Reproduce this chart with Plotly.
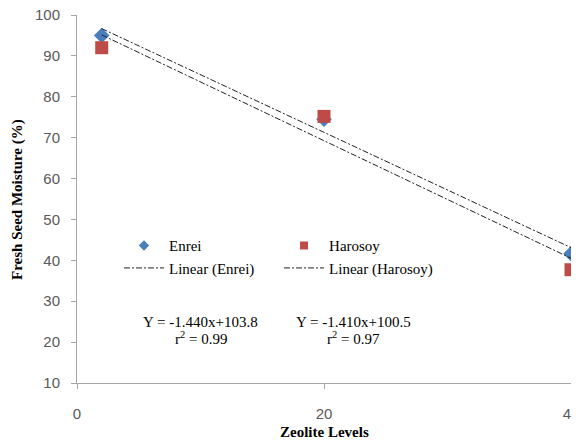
import numpy as np
import plotly.graph_objects as go

zeolite = [2, 20, 40]
enrei = [95.0, 74.5, 41.6]
harosoy = [92.0, 75.2, 37.7]
x_ticks = [0, 20, 40]
y_ticks = [10, 20, 30, 40, 50, 60, 70, 80, 90, 100]
eq_enrei = ["Y = -1.440x+103.8", "r<sup>2</sup> = 0.99"]
eq_harosoy = ["Y = -1.410x+100.5", "r<sup>2</sup> = 0.97"]

serif = "Liberation Serif"
sans = "Liberation Sans"
blue = "#4a7ebb"
red = "#be4b48"

xs = np.array(zeolite, dtype=float)
pe = np.polyfit(xs, enrei, 1)
ph = np.polyfit(xs, harosoy, 1)
xline = [zeolite[0], zeolite[-1]]
dash = "6px,2px,2px,2px"

fig = go.Figure()
# data markers
fig.add_trace(go.Scatter(x=zeolite, y=enrei, mode="markers", name="Enrei", showlegend=False,
                         cliponaxis=False,
                         marker=dict(symbol="diamond", size=12, color=blue)))
fig.add_trace(go.Scatter(x=zeolite, y=harosoy, mode="markers", name="Harosoy", showlegend=False,
                         cliponaxis=False,
                         marker=dict(symbol="square", size=13, color=red)))
# trend lines
fig.add_trace(go.Scatter(x=xline, y=list(np.polyval(pe, xline)), mode="lines",
                         name="Linear (Enrei)", showlegend=False,
                         line=dict(color="#222222", width=1, dash=dash)))
fig.add_trace(go.Scatter(x=xline, y=list(np.polyval(ph, xline)), mode="lines",
                         name="Linear (Harosoy)", showlegend=False,
                         line=dict(color="#222222", width=1, dash=dash)))
# legend entries (small symbols as in reference)
fig.add_trace(go.Scatter(x=[None], y=[None], mode="markers", name="Enrei",
                         marker=dict(symbol="diamond", size=8, color=blue),
                         legend="legend", legendgroup="a"))
fig.add_trace(go.Scatter(x=[None], y=[None], mode="lines", name="Linear (Enrei)",
                         line=dict(color="#222222", width=1, dash=dash),
                         legend="legend", legendgroup="b"))
fig.add_trace(go.Scatter(x=[None], y=[None], mode="markers", name="Harosoy",
                         marker=dict(symbol="square", size=8, color=red),
                         legend="legend2", legendgroup="c"))
fig.add_trace(go.Scatter(x=[None], y=[None], mode="lines", name="Linear (Harosoy)",
                         line=dict(color="#222222", width=1, dash=dash),
                         legend="legend2", legendgroup="d"))

for xc, lines in [(10, eq_enrei), (22.4, eq_harosoy)]:
    fig.add_annotation(x=xc, y=25.0, xref="x", yref="y", text=lines[0],
                       xanchor="center", yanchor="middle",
                       showarrow=False, font=dict(family=serif, size=15, color="#000"))
    fig.add_annotation(x=xc, y=21.0, xref="x", yref="y", text=lines[1],
                       xanchor="center", yanchor="middle",
                       showarrow=False, font=dict(family=serif, size=15, color="#000"))

# axis titles
fig.add_annotation(x=-0.1215, y=0.5, xref="paper", yref="paper", textangle=-90,
                   xanchor="center", yanchor="middle",
                   text="<b>Fresh Seed Moisture (%)</b>", showarrow=False,
                   font=dict(family=serif, size=15, color="#000"))
fig.add_annotation(x=0.5, y=-0.133, xref="paper", yref="paper",
                   xanchor="center", yanchor="middle",
                   text="<b>Zeolite Levels</b>", showarrow=False,
                   font=dict(family=serif, size=15, color="#000"))

leg = dict(font=dict(family=serif, size=15, color="#000"), bgcolor="rgba(0,0,0,0)",
           yanchor="top", y=0.418, tracegroupgap=0, itemwidth=40)
fig.update_layout(
    width=579, height=443,
    margin=dict(l=69, r=16, t=7, b=68, autoexpand=False),
    paper_bgcolor="white", plot_bgcolor="white",
    legend=dict(**leg, x=0.085),
    legend2=dict(**leg, x=0.409),
    xaxis=dict(range=[0, 40], tickvals=x_ticks, showgrid=False, zeroline=False,
               showline=True, linecolor="#a6a6a6", linewidth=1, automargin=False,
               ticks="outside", tickcolor="#a6a6a6", ticklen=5,
               ticklabelstandoff=12, ticklabeloverflow="allow",
               tickfont=dict(family=sans, size=15, color="#595959")),
    yaxis=dict(range=[10, 100], tickvals=y_ticks, showgrid=False, zeroline=False,
               showline=True, linecolor="#a6a6a6", linewidth=1, automargin=False,
               ticks="outside", tickcolor="#a6a6a6", ticklen=5,
               ticklabelstandoff=8, ticklabeloverflow="allow",
               tickfont=dict(family=sans, size=15, color="#595959")),
)
fig.write_html("out.html")
